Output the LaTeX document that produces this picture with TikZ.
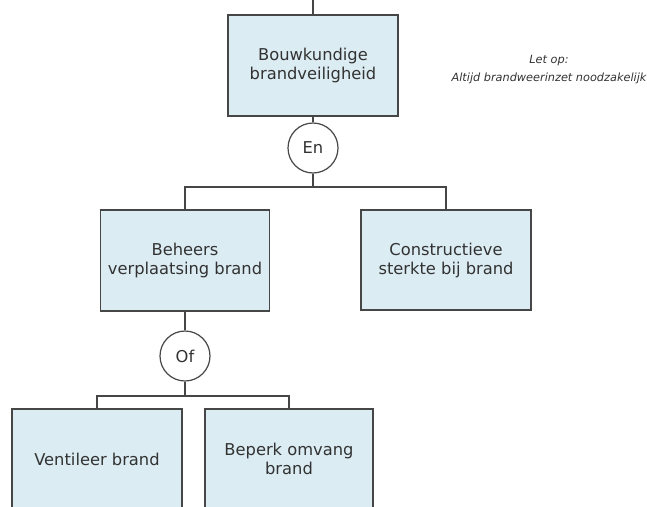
\documentclass[tikz,border=0pt]{standalone}
\usepackage{fontspec}
\setmainfont{DejaVu Sans}
\usepackage{tikz}
\definecolor{niceblue}{RGB}{219, 236, 243}
\definecolor{dgray}{RGB}{70, 70, 70}
\definecolor{tgray}{RGB}{50, 50, 50}
\tikzset{
	doel/.style = {rectangle, draw = dgray, line width = 1.2pt, fill = niceblue, text = tgray, align = center, inner sep = 0pt, font = \fontsize{16.3}{19}\selectfont},
	poort/.style = {circle, draw = dgray, line width = 1.2pt, fill = white, text = tgray, minimum size = 50pt, inner sep = 0pt, font = \fontsize{16.3}{19}\selectfont},
	lijn/.style = {draw = dgray, line width = 1.2pt}
}

\begin{document}
\begin{tikzpicture}[x = 1pt, y = -1pt]
			\clip (0,0) rectangle (647,506);
			\node (top) at (313,65.5) [doel, minimum width = 170pt, minimum height = 101pt] {Bouwkundige\\brandveiligheid};
			\node (en) at (313,148) [poort] {En};
			\node (beheers) at (185,260.5) [doel, minimum width = 169pt, minimum height = 101pt] {Beheers\\verplaatsing brand};
			\node (constr) at (446,260) [doel, minimum width = 170pt, minimum height = 100pt] {Constructieve\\sterkte bij brand};
			\node (of) at (185,356) [poort] {Of};
			\node (vent) at (97,459) [doel, minimum width = 170pt, minimum height = 100pt] {Ventileer brand};
			\node (beperk) at (289,459) [doel, minimum width = 168pt, minimum height = 100pt] {Beperk omvang\\brand};
			\node (let) at (549,70) [text = tgray, align = center, font = \fontsize{11.3}{18}\selectfont\itshape] {Let op:\\Altijd brandweerinzet noodzakelijk};
			\coordinate (in) at (313,0);
			\coordinate (enbus) at (313,187);
			\coordinate (ofbus) at (185,396);
			\draw[lijn] (in) -- (top.north);
			\draw[lijn] (top.south) -- (en.north);
			\draw[lijn] (en.south) -- (enbus);
			\draw[lijn] (beheers.north) |- (enbus) -| (constr.north);
			\draw[lijn] (beheers.south) -- (of.north);
			\draw[lijn] (of.south) -- (ofbus);
			\draw[lijn] (vent.north) |- (ofbus) -| (beperk.north);
			\end{tikzpicture}
\end{document}
